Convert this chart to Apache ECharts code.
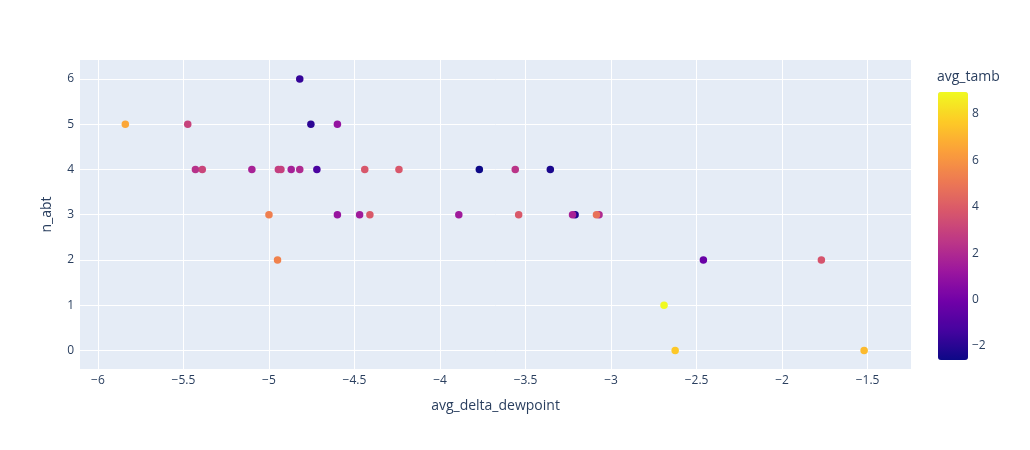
<!DOCTYPE html>
<html>
<head>
<meta charset="utf-8">
<script src="https://cdn.jsdelivr.net/npm/echarts@6/dist/echarts.min.js"></script>
<style>
  html, body { margin: 0; padding: 0; background: #fff; }
  #chart { width: 1030px; height: 450px; }
</style>
</head>
<body>
<div id="chart"></div>
<script>
// avg_delta_dewpoint, n_abt, avg_tamb per point
const avgDeltaDewpoint = [
  -4.82, -5.84, -5.475, -4.755, -4.60,
  -5.43, -5.39, -5.10, -4.945, -4.93, -4.87, -4.82, -4.72, -4.44,
  -5.00, -4.60, -4.47, -4.41, -4.95,
  -4.24, -3.77, -3.56, -3.355,
  -3.89, -3.54, -3.21, -3.225, -3.07, -3.085,
  -2.46, -1.77, -2.69, -2.625, -1.52
]
const nAbt = [
  6, 5, 5, 5, 5,
  4, 4, 4, 4, 4, 4, 4, 4, 4,
  3, 3, 3, 3, 2,
  4, 4, 4, 4,
  3, 3, 3, 3, 3, 3,
  2, 2, 1, 0, 0
]
const avgTamb = [
  -1.7, 6.6, 3.0, -1.9, 1.0,
  2.3, 3.1, 1.7, 2.8, 2.9, 1.6, 2.0, -1.2, 3.8,
  5.3, 1.1, 1.4, 3.9, 5.4,
  3.8, -2.6, 2.4, -2.3,
  1.4, 3.9, -2.2, 1.7, 2.0, 4.8,
  -0.3, 3.7, 8.95, 7.6, 7.2
]

const xTicks = [-6, -5.5, -5, -4.5, -4, -3.5, -3, -2.5, -2, -1.5]
const yTicks = [0, 1, 2, 3, 4, 5, 6]
const cbarTicks = [-2, 0, 2, 4, 6, 8]

const plasma = ['#0d0887', '#46039f', '#7201a8', '#9c179e', '#bd3786',
  '#d8576b', '#ed7953', '#fb9f3a', '#fdca26', '#f0f921']

const font = '"Open Sans", verdana, arial, sans-serif'
const txt = '#2a3f5f'
const minus = v => String(v).replace('-', '\u2212')

const points = avgDeltaDewpoint.map((x, i) => [x, nAbt[i], avgTamb[i]])

const chart = echarts.init(document.getElementById('chart'))
chart.setOption({
  animation: false,
  backgroundColor: '#fff',
  textStyle: { fontFamily: font },
  title: {
    text: 'avg_tamb',
    left: 937, top: 70,
    padding: 0,
    textStyle: { color: txt, fontSize: 14, fontWeight: 'normal', fontFamily: font }
  },
  grid: [
    { left: 80, right: 119, top: 60, bottom: 81, show: true, backgroundColor: '#e5ecf6', borderWidth: 0 },
    { left: 938, top: 92, width: 30, height: 268, show: false }
  ],
  xAxis: [{
    type: 'value', min: -6.105, max: -1.246,
    name: 'avg_delta_dewpoint', nameLocation: 'middle', nameGap: 30,
    nameTextStyle: { color: txt, fontSize: 14, fontFamily: font },
    axisLine: { show: false }, axisTick: { show: false, customValues: xTicks },
    axisLabel: { customValues: xTicks, color: txt, fontSize: 12, margin: 6, formatter: minus },
    splitLine: { show: true, lineStyle: { color: '#fff', width: 1 } }
  }, {
    gridIndex: 1, type: 'value', show: false
  }],
  yAxis: [{
    type: 'value', min: -0.41, max: 6.42,
    name: 'n_abt', nameLocation: 'middle', nameGap: 26,
    nameTextStyle: { color: txt, fontSize: 14, fontFamily: font },
    axisLine: { show: false }, axisTick: { show: false, customValues: yTicks },
    axisLabel: { customValues: yTicks, color: txt, fontSize: 12, margin: 6, formatter: minus },
    splitLine: { show: true, lineStyle: { color: '#fff', width: 1 } }
  }, {
    gridIndex: 1, type: 'value', position: 'right', min: -2.6, max: 8.95,
    axisLine: { show: false }, axisTick: { show: false, customValues: cbarTicks },
    axisLabel: { customValues: cbarTicks, color: txt, fontSize: 12, margin: 4, formatter: minus },
    splitLine: { show: false }
  }],
  visualMap: {
    type: 'continuous',
    min: -2.6, max: 8.95,
    dimension: 2,
    seriesIndex: 0,
    calculable: false,
    text: null,
    showLabel: false,
    left: 938, top: 92,
    padding: 0,
    itemWidth: 30, itemHeight: 268,
    inRange: { color: plasma }
  },
  series: [{
    type: 'scatter',
    data: points,
    symbolSize: 7.5,
    itemStyle: { opacity: 1 }
  }]
})
</script>
</body>
</html>
